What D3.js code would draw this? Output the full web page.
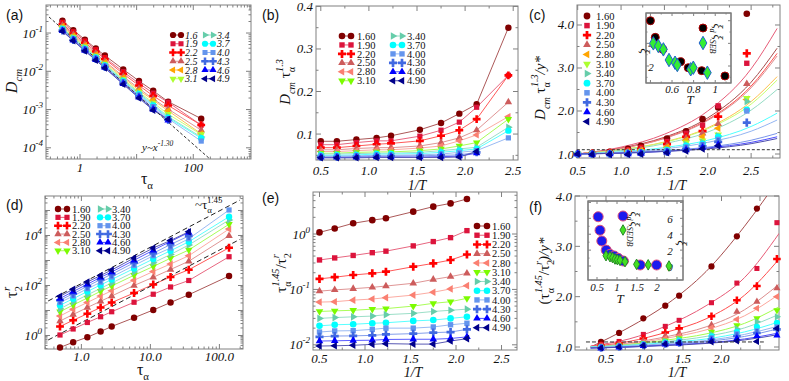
<!DOCTYPE html>
<html>
<head>
<meta charset="utf-8">
<script src="https://cdn.jsdelivr.net/npm/d3@7/dist/d3.min.js"></script>
<style>
  body { margin: 0; background: #fff; }
  svg { display: block; font-family: "Liberation Serif", "Times New Roman", serif; }
  text { fill: #111; }
  .tick-label { font-size: 13px; font-style: italic; }
  .leg { font-size: 10.5px; }
  .leg-it { font-size: 10px; font-style: italic; }
  .plabel { font-family: "Liberation Sans", Arial, sans-serif; font-size: 14px; }
  .in-label { font-size: 11px; font-style: italic; }
</style>
</head>
<body>
<div id="chart"></div>
<script>
// ---------- data ----------
var temps = ["1.60", "1.90", "2.20", "2.50", "2.80", "3.10", "3.40", "3.70", "4.00", "4.30", "4.60", "4.90"];
var tempsShort = ["1.6", "1.9", "2.2", "2.5", "2.8", "3.1", "3.4", "3.7", "4.0", "4.3", "4.6", "4.9"];
var invT = [0.5, 0.667, 0.87, 1.08, 1.23, 1.53, 1.75, 1.94, 2.12, 2.45];
var tauAlpha = [0.49, 0.76, 1.22, 1.9, 2.75, 5.8, 11, 19.6, 36, 138];

// (a) D_cm vs tau_alpha
var dcm = [
  [0.210, 0.119, 0.0672, 0.0395, 0.0258, 0.0112, 0.00558, 0.00309, 0.00161, 0.000578],
  [0.190, 0.107, 0.0618, 0.0365, 0.0226, 0.00969, 0.00483, 0.00268, 0.00155, 0.000393],
  [0.172, 0.0972, 0.0556, 0.0330, 0.0210, 0.00857, 0.00425, 0.00228, 0.00128, 0.000393],
  [0.159, 0.0901, 0.0510, 0.0295, 0.0183, 0.00734, 0.00354, 0.00190, 0.00103, 0.000289],
  [0.149, 0.0844, 0.0471, 0.0273, 0.0169, 0.00683, 0.00319, 0.00176, 0.000929, 0.000233],
  [0.139, 0.0787, 0.0440, 0.0252, 0.0156, 0.00622, 0.00288, 0.00150, 0.000758, 0.000223],
  [0.134, 0.0758, 0.0417, 0.0239, 0.0148, 0.00581, 0.00270, 0.00136, 0.000654, 0.000191],
  [0.127, 0.0715, 0.0394, 0.0230, 0.0143, 0.00551, 0.00253, 0.00127, 0.000616, 0.000178],
  [0.121, 0.0686, 0.0378, 0.0217, 0.0135, 0.00520, 0.00235, 0.00119, 0.000578, 0.000150],
  [0.116, 0.0658, 0.0363, 0.0208, 0.0129, 0.00500, 0.00222, 0.00107, 0.000540],
  [0.114, 0.0644, 0.0347, 0.0200, 0.0124, 0.00469, 0.00208, 0.00100, 0.000521],
  [0.111, 0.0629, 0.0340, 0.0195, 0.0121, 0.00459, 0.00199, 0.000961, 0.000559]
];
var guideAx = [0.284, 200];
var guideAy = [0.262, 5.0e-5];

// (b) D_cm * tau^1.3 vs 1/T
var dcmTau = [
  [0.083, 0.083, 0.087, 0.091, 0.096, 0.110, 0.126, 0.148, 0.170, 0.350],
  [0.075, 0.075, 0.080, 0.084, 0.084, 0.095, 0.109, 0.128, 0.163, 0.238],
  [0.068, 0.068, 0.072, 0.076, 0.078, 0.084, 0.096, 0.109, 0.135, 0.238],
  [0.063, 0.063, 0.066, 0.068, 0.068, 0.072, 0.080, 0.091, 0.109, 0.175],
  [0.059, 0.059, 0.061, 0.063, 0.063, 0.067, 0.072, 0.084, 0.098, 0.141],
  [0.055, 0.055, 0.057, 0.058, 0.058, 0.061, 0.065, 0.072, 0.080, 0.135],
  [0.053, 0.053, 0.054, 0.055, 0.055, 0.057, 0.061, 0.065, 0.069, 0.116],
  [0.050, 0.050, 0.051, 0.053, 0.053, 0.054, 0.057, 0.061, 0.065, 0.108],
  [0.048, 0.048, 0.049, 0.050, 0.050, 0.051, 0.053, 0.057, 0.061, 0.091],
  [0.046, 0.046, 0.047, 0.048, 0.048, 0.049, 0.050, 0.051, 0.057],
  [0.045, 0.045, 0.045, 0.046, 0.046, 0.046, 0.047, 0.048, 0.055],
  [0.044, 0.044, 0.044, 0.045, 0.045, 0.045, 0.045, 0.046, 0.059]
];

// (c) normalised points and fitted curves
var dcmNorm = [
  [1.0, 1.02, 1.05, 1.12, 1.19, 1.36, 1.53, 1.81, 2.08, 4.26],
  [1.0, 1.01, 1.04, 1.09, 1.15, 1.29, 1.48, 1.67, 2.12, 3.11],
  [1.0, 1.01, 1.03, 1.07, 1.12, 1.23, 1.40, 1.53, 1.87, 3.34],
  [1.0, 1.01, 1.03, 1.06, 1.10, 1.19, 1.36, 1.48, 1.70, 2.63],
  [1.0, 1.0, 1.02, 1.05, 1.08, 1.16, 1.32, 1.40, 1.60, 2.27],
  [1.0, 1.0, 1.02, 1.04, 1.06, 1.12, 1.26, 1.31, 1.45, 2.30],
  [1.0, 1.0, 1.01, 1.03, 1.05, 1.10, 1.22, 1.27, 1.42, 2.22],
  [1.0, 1.0, 1.01, 1.02, 1.04, 1.09, 1.19, 1.24, 1.40, 2.03],
  [1.0, 1.0, 1.01, 1.02, 1.03, 1.07, 1.16, 1.22, 1.34, 2.0],
  [1.0, 1.0, 1.0, 1.01, 1.02, 1.05, 1.12, 1.18, 1.28, 1.73],
  [1.0, 0.99, 1.0, 1.0, 1.01, 1.04, 1.09, 1.15, 1.22],
  [1.0, 0.99, 0.99, 0.99, 1.0, 1.03, 1.07, 1.12, 1.19]
];
var fitXc = [0.5, 1.0, 1.5, 2.0, 2.5, 2.8];
var fitC = [
  [1, 1.14, 1.39, 1.84, 2.67, 3.46],
  [1, 1.16, 1.46, 2.00, 2.98, 3.92],
  [1, 1.13, 1.37, 1.80, 2.58, 3.34],
  [1, 1.13, 1.36, 1.78, 2.54, 3.28],
  [1, 1.10, 1.28, 1.61, 2.22, 2.80],
  [1, 1.10, 1.27, 1.59, 2.16, 2.72],
  [1, 1.08, 1.24, 1.51, 2.02, 2.50],
  [1, 1.05, 1.15, 1.32, 1.64, 1.95],
  [1, 1.04, 1.12, 1.27, 1.53, 1.79],
  [1, 1.03, 1.08, 1.16, 1.32, 1.48],
  [1, 1.02, 1.06, 1.14, 1.27, 1.40],
  [1, 1.02, 1.06, 1.12, 1.24, 1.36]
];
var refC = [[0.49, 1.1], [2.84, 1.1]];
var xiT = [0.40, 0.445, 0.515, 0.68, 0.75, 0.875, 1.09];
var xiD = [6.0, 4.53, 3.47, 2.38, 1.85, 1.59, 1.12];
var sebT = [0.427, 0.473, 0.52, 0.572, 0.628, 0.649, 0.773, 0.797, 0.927];
var xiSEB = [4.0, 3.77, 3.47, 2.53, 2.29, 2.09, 1.71, 1.85, 1.41];

// (d) log10 of tau_2^r vs tau_alpha
var log10Tau2 = [
  [-0.48, -0.27, -0.07, 0.16, 0.36, 0.71, 1.02, 1.32, 1.63, 2.38],
  [0.02, 0.26, 0.52, 0.75, 0.95, 1.33, 1.65, 1.94, 2.20, 3.15],
  [0.36, 0.61, 0.87, 1.12, 1.32, 1.70, 2.04, 2.34, 2.63, 3.51],
  [0.58, 0.84, 1.12, 1.37, 1.58, 2.00, 2.33, 2.64, 2.97, 3.99],
  [0.78, 1.05, 1.32, 1.58, 1.79, 2.21, 2.56, 2.86, 3.19, 4.26],
  [0.95, 1.22, 1.50, 1.77, 1.98, 2.41, 2.76, 3.09, 3.42, 4.45],
  [1.07, 1.34, 1.62, 1.89, 2.10, 2.54, 2.91, 3.24, 3.62, 4.62],
  [1.21, 1.47, 1.76, 2.02, 2.24, 2.68, 3.06, 3.39, 3.75, 4.75],
  [1.32, 1.58, 1.87, 2.13, 2.34, 2.80, 3.19, 3.50, 3.87, 5.02],
  [1.41, 1.67, 1.97, 2.24, 2.45, 2.91, 3.29, 3.64, 3.98],
  [1.48, 1.76, 2.05, 2.33, 2.54, 3.01, 3.41, 3.76, 4.12],
  [1.57, 1.85, 2.14, 2.40, 2.62, 3.10, 3.50, 3.80, 4.15]
];
var guideDx = [0.33, 198];
var guideDhi = [24, 2.6e5];
var guideDlo = [0.66, 7000];

// (e) tau_alpha^1.45 / tau_2^r vs 1/T
var ratioE = [
  [1.07, 1.26, 1.56, 1.78, 1.92, 2.53, 3.12, 3.57, 4.29],
  [0.34, 0.37, 0.41, 0.46, 0.49, 0.61, 0.73, 0.86, 1.15],
  [0.155, 0.166, 0.182, 0.195, 0.209, 0.257, 0.295, 0.339, 0.427],
  [0.093, 0.098, 0.103, 0.109, 0.115, 0.129, 0.151, 0.170, 0.195],
  [0.059, 0.060, 0.064, 0.067, 0.071, 0.079, 0.089, 0.102, 0.117],
  [0.040, 0.041, 0.042, 0.044, 0.045, 0.050, 0.056, 0.060, 0.069],
  [0.030, 0.031, 0.032, 0.033, 0.035, 0.037, 0.040, 0.042, 0.044],
  [0.022, 0.023, 0.0235, 0.0245, 0.025, 0.027, 0.028, 0.030, 0.032],
  [0.017, 0.0178, 0.018, 0.019, 0.020, 0.020, 0.021, 0.023, 0.0245],
  [0.0139, 0.0144, 0.0145, 0.0148, 0.0154, 0.0159, 0.0166, 0.017, 0.019],
  [0.0117, 0.0118, 0.012, 0.0121, 0.0125, 0.0126, 0.0126, 0.013, 0.0139],
  [0.0095, 0.0096, 0.0098, 0.0102, 0.0105, 0.0103, 0.0103, 0.0117, 0.0129]
];

// (f) normalised ratio, points and fitted curves
var invTf = [0.435, 0.67, 0.985, 1.27, 1.45, 1.87, 2.2, 2.46, 2.72];
var ratioF = [
  [1.10, 1.28, 1.57, 1.82, 2.02, 2.60, 3.20, 3.75],
  [1.05, 1.11, 1.25, 1.41, 1.53, 1.88, 2.27, 2.56, 3.47],
  [1.03, 1.07, 1.17, 1.29, 1.37, 1.61, 1.93, 2.21, 2.75],
  [1.02, 1.05, 1.12, 1.22, 1.27, 1.44, 1.70, 1.90, 2.17],
  [1.01, 1.04, 1.09, 1.17, 1.22, 1.38, 1.55, 1.77, 2.00],
  [1.0, 1.03, 1.07, 1.13, 1.17, 1.30, 1.43, 1.57, 1.73],
  [1.0, 1.02, 1.06, 1.11, 1.15, 1.25, 1.36, 1.50, 1.60],
  [1.0, 1.01, 1.05, 1.09, 1.12, 1.21, 1.30, 1.40, 1.48],
  [0.99, 1.01, 1.04, 1.07, 1.10, 1.18, 1.26, 1.32, 1.40],
  [0.98, 1.0, 1.03, 1.06, 1.08, 1.15, 1.22, 1.28, 1.35],
  [0.97, 0.99, 1.02, 1.05, 1.07, 1.12, 1.17, 1.22, 1.23],
  [0.98, 1.0, 1.03, 1.06, 1.08, 1.10, 1.12, 1.11, 1.37]
];
var fitXf = [0.3, 0.8, 1.3, 1.8, 2.3, 2.75];
var fitF = [
  [1.0, 1.39, 1.86, 2.50, 3.40, 4.35],
  [1.02, 1.16, 1.43, 1.82, 2.38, 3.26],
  [1.01, 1.11, 1.30, 1.56, 2.03, 2.75],
  [1.0, 1.08, 1.21, 1.40, 1.74, 2.25],
  [1.0, 1.06, 1.18, 1.34, 1.62, 2.05],
  [1.0, 1.05, 1.14, 1.26, 1.47, 1.80],
  [1.0, 1.04, 1.11, 1.21, 1.38, 1.65],
  [1.0, 1.03, 1.09, 1.16, 1.30, 1.50],
  [0.99, 1.02, 1.07, 1.13, 1.25, 1.42],
  [0.98, 1.01, 1.05, 1.11, 1.21, 1.37],
  [0.98, 1.0, 1.04, 1.08, 1.16, 1.28],
  [0.98, 1.0, 1.03, 1.07, 1.14, 1.25]
];
var refF = [[0.24, 1.1], [2.55, 1.1]];
var xiTf = [0.53, 0.575, 0.62, 0.73, 0.825, 0.93, 1.03, 1.16, 1.58, 1.99];
var xiDf = [6.2, 4.5, 3.15, 2.0, 1.47, 1.26, 0.97, 0.63, 0.13, 0.13];
var sedbT = [0.725, 0.825, 0.89, 0.95, 1.01, 1.075, 1.2, 1.49, 1.78, 2.3];
var xiSEDB = [1.3, 1.17, 1.05, 0.88, 0.8, 0.71, 0.55, 0.21, 0.15, 0.0];

// ---------- styling ----------
var pal = ["#800000", "#dc143c", "#ff0000", "#cd5c5c", "#fa8072", "#7cfc00",
           "#66cdaa", "#00ffff", "#6495ed", "#4169e1", "#0000ff", "#00008b"];
var palAC = ["#800000", "#dc143c", "#ff0000", "#cd5c5c", "#ffa500", "#adff2f",
             "#66cdaa", "#00ffff", "#6495ed", "#4169e1", "#0000ff", "#00008b"];
var shapes = ["circle", "square", "cross", "triUp", "triLeft", "triDown",
              "triRight", "circle", "square", "cross", "triUp", "triLeft"];
var baseSize = { circle: 38, square: 32, cross: 40, diamond: 40 };
var rotOf = { triUp: 0, triLeft: -90, triDown: 180, triRight: 90 };

var svg = d3.select("#chart").append("svg").attr("width", 789).attr("height", 381);
var defs = svg.append("defs");
var nClip = 0;

function sym(shape, k) {
  var t = shape === "circle" ? d3.symbolCircle : shape === "square" ? d3.symbolSquare :
          shape === "cross" ? d3.symbolCross : shape === "diamond" ? d3.symbolDiamond : d3.symbolTriangle;
  return d3.symbol().type(t).size((baseSize[shape] || 28) * (k || 1))();
}
function place(x, y, shape) {
  return "translate(" + x + "," + y + ")" + (rotOf[shape] ? " rotate(" + rotOf[shape] + ")" : "");
}
function light(c, k) { return d3.interpolateRgb(c, "#ffffff")(k); }
function pairs(xv, yv) { return yv.map(function (v, i) { return [xv[i], v]; }); }
function lineOf(xs, ys, curve) {
  return d3.line().x(function (d) { return xs(d[0]); }).y(function (d) { return ys(d[1]); })
    .curve(curve || d3.curveLinear);
}
function clipFor(xs, ys) {
  var id = "clip" + (nClip++), X = xs.range(), Y = ys.range();
  defs.append("clipPath").attr("id", id).append("rect")
    .attr("x", X[0]).attr("y", Y[1]).attr("width", X[1] - X[0]).attr("height", Y[0] - Y[1]);
  return "url(#" + id + ")";
}
function seg(g, x1, y1, x2, y2) {
  g.append("line").attr("x1", x1).attr("y1", y1).attr("x2", x2).attr("y2", y2);
}
function logMinor(dom) {
  var out = [], lo = Math.floor(Math.log10(dom[0])), hi = Math.ceil(Math.log10(dom[1]));
  for (var e = lo; e <= hi; e++) for (var k = 2; k <= 9; k++) {
    var v = k * Math.pow(10, e);
    if (v > dom[0] && v < dom[1]) out.push(v);
  }
  return out;
}
function putLabel(t, s) {
  if (typeof s === "object") {
    t.append("tspan").text("10");
    t.append("tspan").attr("dy", -6).attr("font-size", 9).text(s.e);
  } else t.text(s);
}
// rich text: parts {t, sub, sup, it, dx}
function rich(t, parts, fs) {
  var cur = 0;
  parts.forEach(function (p) {
    var shift = p.sub ? fs * 0.32 : p.sup ? -fs * 0.45 : 0;
    var s = t.append("tspan").text(p.t).attr("dy", shift - cur);
    if (p.sub || p.sup) s.attr("font-size", fs * 0.68);
    if (p.it) s.attr("font-style", "italic");
    if (p.dx) s.attr("dx", p.dx);
    cur = shift;
  });
}
function title(x, y, parts, fs, rot) {
  var t = svg.append("text").attr("text-anchor", "middle").attr("font-size", fs)
    .attr("transform", "translate(" + x + "," + y + ")" + (rot ? " rotate(" + rot + ")" : ""));
  rich(t, parts, fs);
  return t;
}
function frame(g, xs, ys, o) {
  var X = xs.range(), Y = ys.range();
  var tg = g.append("g").attr("stroke", "#808080").attr("stroke-width", 1).attr("fill", "none");
  tg.append("rect").attr("x", X[0]).attr("y", Y[1]).attr("width", X[1] - X[0]).attr("height", Y[0] - Y[1]);
  var ml = o.major || 5, nl = o.minor || 2.5;
  (o.xMajor || []).forEach(function (v) { var p = xs(v); seg(tg, p, Y[0], p, Y[0] - ml); seg(tg, p, Y[1], p, Y[1] + ml); });
  (o.xMinor || []).forEach(function (v) { var p = xs(v); seg(tg, p, Y[0], p, Y[0] - nl); seg(tg, p, Y[1], p, Y[1] + nl); });
  (o.yMajor || []).forEach(function (v) { var p = ys(v); seg(tg, X[0], p, X[0] + ml, p); seg(tg, X[1], p, X[1] - ml, p); });
  (o.yMinor || []).forEach(function (v) { var p = ys(v); seg(tg, X[0], p, X[0] + nl, p); seg(tg, X[1], p, X[1] - nl, p); });
  (o.xLabels || []).forEach(function (d) {
    var t = g.append("text").attr("class", o.cls || "tick-label").attr("x", xs(d[0])).attr("y", o.xLabelY)
      .attr("text-anchor", "middle");
    putLabel(t, d[1]);
  });
  (o.yLabels || []).forEach(function (d) {
    var t = g.append("text").attr("class", o.cls || "tick-label").attr("x", o.yLabelX != null ? o.yLabelX : X[0] - 3)
      .attr("y", ys(d[0]) + 4.5).attr("text-anchor", o.yAnchor || "end");
    putLabel(t, d[1]);
  });
}
function plotLines(g, xs, ys, xv, list, cols, clip, curve, fade) {
  list.forEach(function (s, i) {
    g.append("path").datum(pairs(xv, s)).attr("d", lineOf(xs, ys, curve))
      .attr("fill", "none").attr("stroke", light(cols[i], fade)).attr("stroke-width", 1)
      .attr("clip-path", clip);
  });
}
function plotMarks(g, xs, ys, xv, list, cols, k) {
  list.forEach(function (s, i) {
    g.append("g").selectAll("path").data(pairs(xv, s)).join("path")
      .attr("d", sym(shapes[i], k)).attr("fill", cols[i])
      .attr("transform", function (d) { return place(xs(d[0]), ys(d[1]), shapes[i]); });
  });
}
function legendItem(g, xm, y, i, cols, text, xl, cls, k) {
  if (xm.length === 2) g.append("line").attr("x1", xm[0]).attr("x2", xm[1]).attr("y1", y).attr("y2", y)
    .attr("stroke", light(cols[i], 0.3));
  xm.forEach(function (x) {
    g.append("path").attr("d", sym(shapes[i], k)).attr("fill", cols[i]).attr("transform", place(x, y, shapes[i]));
  });
  g.append("text").attr("class", cls).attr("x", xl).attr("y", y + 3.6).text(text);
}
function panelLabel(x, y, s) {
  svg.append("text").attr("class", "plabel").attr("x", x).attr("y", y).text(s);
}

// ---------- (a) ----------
var xa = d3.scaleLog().domain([0.251, 1045]).range([46, 251]);
var ya = d3.scaleLog().domain([5.1e-5, 0.54]).range([159, 5]);
var ga = svg.append("g");
frame(ga, xa, ya, {
  xMajor: [1, 10, 100, 1000], xMinor: logMinor(xa.domain()),
  yMajor: [1e-4, 1e-3, 1e-2, 1e-1], yMinor: logMinor(ya.domain()),
  xLabels: [[1, "1"], [100, "100"]], xLabelY: 172,
  yLabels: [[1e-1, { e: "-1" }], [1e-2, { e: "-2" }], [1e-3, { e: "-3" }], [1e-4, { e: "-4" }]]
});
var clipA = clipFor(xa, ya);
plotLines(ga, xa, ya, tauAlpha, dcm, palAC, clipA, null, 0.35);
ga.append("path").datum(pairs(guideAx, guideAy)).attr("d", lineOf(xa, ya)).attr("fill", "none")
  .attr("stroke", "#333").attr("stroke-dasharray", "3,2").attr("clip-path", clipA);
plotMarks(ga, xa, ya, tauAlpha, dcm, palAC, 0.85);
var ta = ga.append("text").attr("x", 142).attr("y", 151).attr("font-size", 11).attr("font-style", "italic");
rich(ta, [{ t: "y~x" }, { t: "-1.30", sup: true }], 11);
temps.forEach(function (s, i) {
  var c = Math.floor(i / 6), r = i % 6;
  legendItem(ga, c ? [205, 213] : [173, 181], 35 + r * 8.75, i, palAC, tempsShort[i], c ? 217 : 185, "leg-it", 0.8);
});
panelLabel(6, 20, "(a)");
title(147, 184, [{ t: "τ" }, { t: "α", sub: true }], 16);
title(17, 81, [{ t: "D", it: true }, { t: "cm", sub: true, it: true }], 16, -90);

// ---------- (b) ----------
var xb = d3.scaleLinear().domain([0.45, 2.55]).range([316, 518]);
var yb = d3.scaleLinear().domain([0.039, 0.401]).range([160, 6]);
var gb = svg.append("g");
frame(gb, xb, yb, {
  xMajor: [0.5, 1, 1.5, 2, 2.5], xMinor: [0.75, 1.25, 1.75, 2.25],
  yMajor: [0.1, 0.2, 0.3, 0.4], yMinor: [0.05, 0.15, 0.25, 0.35],
  xLabels: [[0.5, "0.5"], [1, "1.0"], [1.5, "1.5"], [2, "2.0"], [2.5, "2.5"]], xLabelY: 175,
  yLabels: [[0.1, "0.1"], [0.2, "0.2"], [0.3, "0.3"], [0.4, "0.4"]]
});
var clipB = clipFor(xb, yb);
plotLines(gb, xb, yb, invT, dcmTau, pal, clipB, null, 0.35);
plotMarks(gb, xb, yb, invT, dcmTau, pal, 0.85);
temps.forEach(function (s, i) {
  var c = Math.floor(i / 6), r = i % 6;
  legendItem(gb, c ? [393, 402] : [342, 351], 36 + r * 8.95, i, pal, s, c ? 407 : 357, "leg", 0.9);
});
panelLabel(262, 20, "(b)");
title(417, 190, [{ t: "1/T", it: true }], 14);
title(290, 82, [{ t: "D", it: true }, { t: "cm", sub: true, it: true }, { t: " τ" }, { t: "α", sub: true },
  { t: "1.3", sup: true, it: true, dx: -5 }], 15, -90);

// ---------- (c) ----------
var xc = d3.scaleLinear().domain([0.492, 2.833]).range([577, 780]);
var yc = d3.scaleLinear().domain([0.907, 4.465]).range([158, 5]);
var gc = svg.append("g");
frame(gc, xc, yc, {
  xMajor: [0.5, 1, 1.5, 2, 2.5], xMinor: [0.75, 1.25, 1.75, 2.25, 2.75],
  yMajor: [1, 2, 3, 4], yMinor: [1.5, 2.5, 3.5],
  xLabels: [[0.5, "0.5"], [1, "1.0"], [1.5, "1.5"], [2, "2.0"], [2.5, "2.5"]], xLabelY: 175,
  yLabels: [[1, "1.0"], [2, "2.0"], [3, "3.0"], [4, "4.0"]]
});
var clipC = clipFor(xc, yc);
plotLines(gc, xc, yc, fitXc, fitC, palAC, clipC, d3.curveMonotoneX, 0.3);
gc.append("path").datum(refC).attr("d", lineOf(xc, yc)).attr("fill", "none")
  .attr("stroke", "#333").attr("stroke-dasharray", "3,2");
plotMarks(gc, xc, yc, invT, dcmNorm, palAC, 0.9);
temps.forEach(function (s, i) {
  legendItem(gc, [587], 16 + i * 9.6, i, palAC, s, 596, "leg", 0.95);
});
// inset (c)
var xci = d3.scaleLinear().domain([0.359, 1.146]).range([646, 731]);
var yci = d3.scaleLinear().domain([0.5, 6.68]).range([83, 13]);
gc.append("rect").attr("x", 646).attr("y", 13).attr("width", 85).attr("height", 70)
  .attr("fill", "#fff").attr("stroke", "#555");
frame(gc, xci, yci, {
  major: 3, minor: 1.5, xMajor: [0.4, 0.6, 0.8, 1], xMinor: [0.5, 0.7, 0.9, 1.1],
  yMajor: [2, 4, 6], yMinor: [1, 3, 5],
  xLabels: [[0.6, "0.6"], [0.8, "0.8"], [1, "1"]], xLabelY: 93, cls: "in-label",
  yLabels: [[2, "2"], [4, "4"], [6, "6"]], yLabelX: 651, yAnchor: "middle"
});
gc.append("g").selectAll("circle").data(pairs(xiT, xiD)).join("circle")
  .attr("cx", function (d) { return xci(d[0]); }).attr("cy", function (d) { return yci(d[1]); })
  .attr("r", 4).attr("fill", "#000").attr("stroke", "#b00000");
gc.append("g").selectAll("path").data(pairs(sebT, xiSEB)).join("path")
  .attr("d", sym("diamond", 1.3)).attr("fill", "#33ee33").attr("stroke", "#1f5fd0")
  .attr("transform", function (d) { return "translate(" + xci(d[0]) + "," + yci(d[1]) + ")"; });
gc.append("circle").attr("cx", 703).attr("cy", 28).attr("r", 4).attr("fill", "#000").attr("stroke", "#b00000");
gc.append("path").attr("d", sym("diamond", 1.3)).attr("fill", "#33ee33").attr("stroke", "#1f5fd0")
  .attr("transform", "translate(703,43)");
title(714, 28, [{ t: "ξ", it: true }, { t: "d", sub: true, it: true }], 12, 90);
title(714, 44, [{ t: "ξ", it: true }, { t: "SEB", sub: true, it: true }], 12, 90);
title(641, 51, [{ t: "ξ", it: true }], 13, 90);
title(690, 104, [{ t: "T", it: true }], 13);
panelLabel(529, 20, "(c)");
title(677, 190, [{ t: "1/T", it: true }], 14);
title(545, 88, [{ t: "D", it: true }, { t: "cm", sub: true, it: true }, { t: " τ" }, { t: "α", sub: true },
  { t: "1.3", sup: true, it: true, dx: -5 }, { t: "/y*", it: true }], 15, -90);

// ---------- (d) ----------
var xd = d3.scaleLog().domain([0.297, 219.8]).range([45, 243]);
var yd = d3.scaleLog().domain([0.288, 3.8e5]).range([349, 196]);
var gd = svg.append("g");
frame(gd, xd, yd, {
  xMajor: [1, 10, 100], xMinor: logMinor(xd.domain()),
  yMajor: [1, 10, 100, 1e3, 1e4, 1e5], yMinor: logMinor(yd.domain()),
  xLabels: [[1, "1.0"], [10, "10.0"], [100, "100.0"]], xLabelY: 361,
  yLabels: [[1, { e: "0" }], [100, { e: "2" }], [1e4, { e: "4" }]]
});
var tau2 = log10Tau2.map(function (s) { return s.map(function (v) { return Math.pow(10, v); }); });
var clipD = clipFor(xd, yd);
plotLines(gd, xd, yd, tauAlpha, tau2, pal, clipD, null, 0.35);
[guideDhi, guideDlo].forEach(function (gy) {
  gd.append("path").datum(pairs(guideDx, gy)).attr("d", lineOf(xd, yd)).attr("fill", "none")
    .attr("stroke", "#222").attr("stroke-dasharray", "5,3").attr("clip-path", clipD);
});
plotMarks(gd, xd, yd, tauAlpha, tau2, pal, 0.85);
temps.forEach(function (s, i) {
  var c = Math.floor(i / 6), r = i % 6;
  legendItem(gd, c ? [100, 108] : [58, 67], 209 + r * 8.35, i, pal, s, c ? 112 : 72, "leg", 0.85);
});
var tdl = gd.append("text").attr("x", 195).attr("y", 209).attr("font-size", 13);
rich(tdl, [{ t: "~τ" }, { t: "α", sub: true }, { t: "1.45", sup: true, dx: -5 }], 13);
panelLabel(6, 210, "(d)");
title(143, 375, [{ t: "τ" }, { t: "α", sub: true }], 16);
title(17, 292, [{ t: "τ" }, { t: "2", sub: true }, { t: "r", sup: true, it: true, dx: -5 }], 16, -90);

// ---------- (e) ----------
var xe = d3.scaleLinear().domain([0.4286, 2.670]).range([313, 517]);
var ye = d3.scaleLog().domain([0.00806, 5.73]).range([350, 192]);
var ge = svg.append("g");
frame(ge, xe, ye, {
  xMajor: [0.5, 1, 1.5, 2, 2.5], xMinor: [0.75, 1.25, 1.75, 2.25],
  yMajor: [0.01, 0.1, 1], yMinor: logMinor(ye.domain()),
  xLabels: [[0.5, "0.5"], [1, "1.0"], [1.5, "1.5"], [2, "2.0"], [2.5, "2.5"]], xLabelY: 363,
  yLabels: [[1, { e: "0" }], [0.1, { e: "-1" }], [0.01, { e: "-2" }]]
});
var clipE = clipFor(xe, ye);
plotLines(ge, xe, ye, invT, ratioE, pal, clipE, null, 0.35);
plotMarks(ge, xe, ye, invT, ratioE, pal, 0.9);
temps.forEach(function (s, i) {
  legendItem(ge, [477, 487], 226 + i * 9.24, i, pal, s, 492, "leg", 0.9);
});
panelLabel(262, 203, "(e)");
title(413, 377, [{ t: "1/T", it: true }], 14);
title(286, 273, [{ t: "τ" }, { t: "α", sub: true }, { t: "1.45", sup: true, it: true, dx: -5 },
  { t: "/τ" }, { t: "2", sub: true }, { t: "r", sup: true, it: true, dx: -5 }], 15, -90);

// ---------- (f) ----------
var xf = d3.scaleLinear().domain([0.0974, 2.747]).range([575, 779]);
var yf = d3.scaleLinear().domain([0.9404, 4.0]).range([350, 196]);
var gf = svg.append("g");
frame(gf, xf, yf, {
  xMajor: [0.5, 1, 1.5, 2, 2.5], xMinor: [0.25, 0.75, 1.25, 1.75, 2.25],
  yMajor: [1, 2, 3, 4], yMinor: [1.5, 2.5, 3.5],
  xLabels: [[0.5, "0.5"], [1, "1.0"], [1.5, "1.5"], [2, "2.0"]], xLabelY: 363,
  yLabels: [[1, "1.0"], [2, "2.0"], [3, "3.0"], [4, "4.0"]]
});
var clipF = clipFor(xf, yf);
plotLines(gf, xf, yf, fitXf, fitF, pal, clipF, d3.curveMonotoneX, 0.3);
gf.append("path").datum(refF).attr("d", lineOf(xf, yf)).attr("fill", "none")
  .attr("stroke", "#333").attr("stroke-dasharray", "4,2");
plotMarks(gf, xf, yf, invTf, ratioF, pal, 0.8);
// inset (f)
var xfi = d3.scaleLinear().domain([0.275, 2.65]).range([588, 683]);
var yfi = d3.scaleLinear().domain([-1.76, 8.18]).range([280, 201]);
gf.append("rect").attr("x", 588).attr("y", 201).attr("width", 95).attr("height", 79)
  .attr("fill", "#fff").attr("stroke", "#555");
frame(gf, xfi, yfi, {
  major: 3, minor: 1.5, xMajor: [0.5, 1, 1.5, 2, 2.5], xMinor: [0.75, 1.25, 1.75, 2.25],
  yMajor: [0, 2, 4, 6, 8], yMinor: [1, 3, 5, 7],
  xLabels: [[0.5, "0.5"], [1, "1"], [1.5, "1.5"], [2, "2"]], xLabelY: 291, cls: "in-label",
  yLabels: [[0, "0"], [2, "2"], [4, "4"], [6, "6"]], yLabelX: 670, yAnchor: "middle"
});
gf.append("g").selectAll("circle").data(pairs(xiTf, xiDf)).join("circle")
  .attr("cx", function (d) { return xfi(d[0]); }).attr("cy", function (d) { return yfi(d[1]); })
  .attr("r", 5).attr("fill", "#1a1aee").attr("stroke", "#e0507a");
gf.append("g").selectAll("path").data(pairs(sedbT, xiSEDB)).join("path")
  .attr("d", sym("diamond", 0.8)).attr("fill", "#44e022").attr("stroke", "#2a8a2a")
  .attr("transform", function (d) { return "translate(" + xfi(d[0]) + "," + yfi(d[1]) + ")"; });
gf.append("circle").attr("cx", 623).attr("cy", 216).attr("r", 5).attr("fill", "#1a1aee").attr("stroke", "#e0507a");
gf.append("path").attr("d", sym("diamond", 0.8)).attr("fill", "#44e022").attr("stroke", "#2a8a2a")
  .attr("transform", "translate(623,230)");
title(631, 216, [{ t: "ξ", it: true }, { t: "d", sub: true, it: true }], 12, 90);
title(631, 234, [{ t: "ξ", it: true }, { t: "SEDB", sub: true, it: true }], 12, 90);
title(678, 243, [{ t: "ξ", it: true }], 13, 90);
title(620, 303, [{ t: "T", it: true }], 13);
panelLabel(529, 212, "(f)");
title(677, 377, [{ t: "1/T", it: true }], 14);
title(549, 271, [{ t: "(τ" }, { t: "α", sub: true }, { t: "1.45", sup: true, it: true, dx: -5 },
  { t: "/τ" }, { t: "2", sub: true }, { t: "r", sup: true, it: true, dx: -5 }, { t: ")/y*", it: true }], 15, -90);
</script>
</body>
</html>
